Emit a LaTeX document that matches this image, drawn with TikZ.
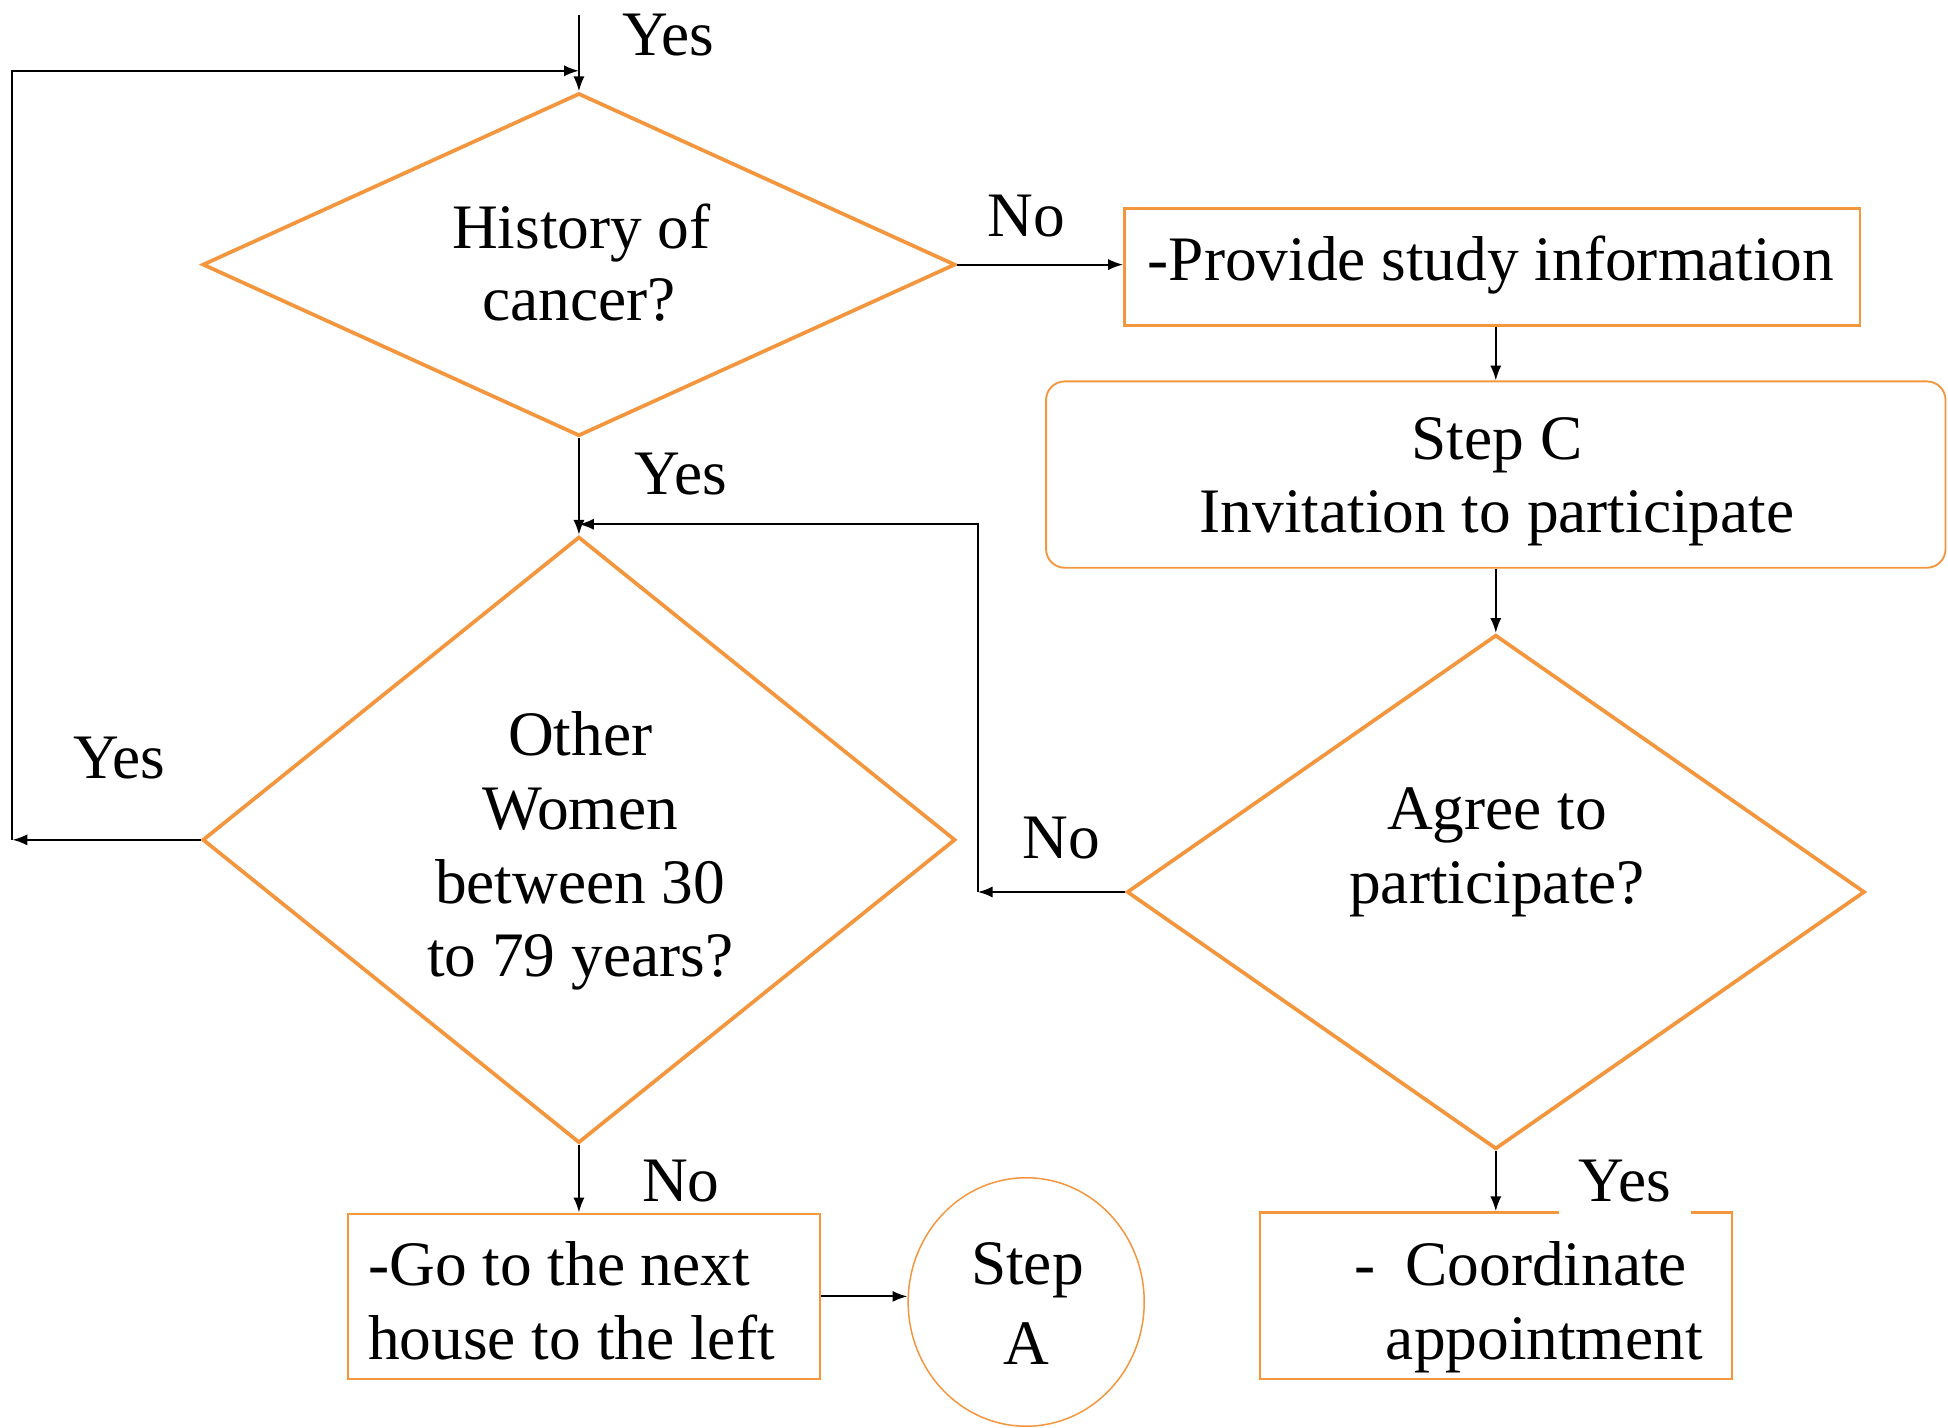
\documentclass[tikz,border=0pt]{standalone}
\usepackage{fontspec}
\setmainfont{Liberation Serif}
\usetikzlibrary{shapes.geometric,arrows.meta}
\definecolor{org}{RGB}{243,150,62}
\begin{document}
\begin{tikzpicture}[x=0.5pt,y=-0.5pt,
  every node/.style={font=\fontsize{25.5}{29.5}\selectfont},
  lbl/.style={anchor=base,inner sep=0pt},
  dia/.style={draw=org,line width=1.5pt,diamond,inner sep=0pt},
  rbox/.style={draw=org,line width=1pt,rectangle,inner sep=0pt},
  arr/.style={draw=black,line width=0.8pt,-{Latex[length=6pt,width=4.5pt]}}]
\useasboundingbox (0,0) rectangle (1568,1149);
% shapes
\node[dia,minimum width=303pt,minimum height=138pt] (d1) at (466,213) {};
\node[dia,minimum width=303pt,minimum height=244pt] (d2) at (466,676) {};
\node[dia,minimum width=297pt,minimum height=207pt] (d3) at (1204,718) {};
\node[rbox,minimum width=296pt,minimum height=47pt] (b1) at (1201,215) {};
\node[rbox,line width=0.75pt,rounded corners=7.5pt,minimum width=362pt,minimum height=75pt] (sc) at (1204,382) {};
\node[rbox,minimum width=190pt,minimum height=66.5pt] (go) at (470,1043.5) {};
\node[rbox,minimum width=190pt,minimum height=67pt] (co) at (1204,1043) {};
\node[draw=org,line width=0.6pt,ellipse,inner sep=0pt,minimum width=95pt,minimum height=100pt] (sa) at (826,1048) {};
% coordinates
\coordinate (top) at (466,12);
\coordinate (lp) at (10,676);
\coordinate (j1) at (466,57);
\coordinate (nc) at (787,718);
\coordinate (j2) at (466,422);
% connectors
\draw[arr] (top) -- (d1.north);
\draw[arr] (d1.east) -- (b1.west |- d1.east);
\draw[arr] (b1.south -| sc.north) -- (sc.north);
\draw[arr] (sc.south) -- (d3.north);
\draw[arr] (d3.west) -- (nc);
\draw[arr] (nc) |- (j2);
\draw[arr] (d1.south) -- (d2.north);
\draw[arr] (d2.west) -- (lp);
\draw[arr] (lp) |- (j1);
\draw[arr] (d2.south) -- (d2.south |- go.north);
\draw[arr] (go.east) -- (sa.west |- go.east);
\draw[arr] (d3.south) -- (co.north);
% texts
\node[lbl] (y0) at (538,45) {Yes};
\node[lbl] (t1a) at (468,200) {History of};
\node[lbl] (t1b) at (466,258) {cancer?};
\node[lbl] (n1) at (826,190) {No};
\node[lbl] (tb1) at (1200,226) {-Provide study information};
\node[lbl] (tsc1) at (1205,370) {Step C};
\node[lbl] (tsc2) at (1205,429) {Invitation to participate};
\node[lbl] (y1) at (548,398) {Yes};
\node[lbl] (t2a) at (467,608) {Other};
\node[lbl] (t2b) at (467,668) {Women};
\node[lbl] (t2c) at (467,727) {between 30};
\node[lbl] (t2d) at (467,786) {to 79 years?};
\node[lbl] (y2) at (96,627) {Yes};
\node[lbl] (t3a) at (1205,668) {Agree to};
\node[lbl] (t3b) at (1205,727) {participate?};
\node[lbl] (n2) at (854,691) {No};
\node[lbl] (n3) at (548,967) {No};
\node[anchor=base,fill=white,inner xsep=8pt,inner ysep=6pt] (y3) at (1308,967) {Yes};
\node[lbl,anchor=base west] (tg1) at (296,1035) {-Go to the next};
\node[lbl,anchor=base west] (tg2) at (296,1094) {house to the left};
\node[lbl] (ta1) at (827,1034) {Step};
\node[lbl] (ta2) at (826,1098) {A};
\node[lbl,anchor=base west] (tc1) at (1090,1035) {-\hspace{12pt}Coordinate};
\node[lbl] (tc2) at (1243,1094) {appointment};
\end{tikzpicture}
\end{document}
